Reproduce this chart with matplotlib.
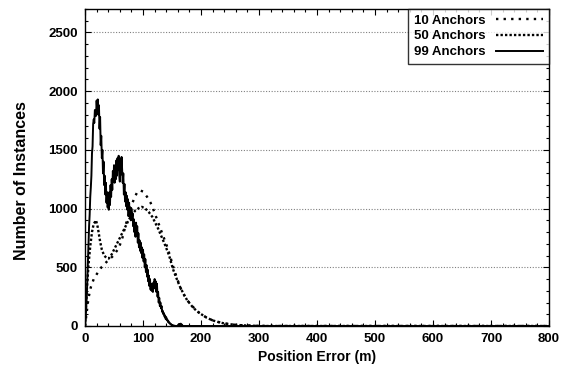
import matplotlib
matplotlib.use("Agg")
import matplotlib.pyplot as plt
from matplotlib.ticker import MultipleLocator

plt.rcParams['font.family'] = ['Liberation Sans', 'DejaVu Sans']
plt.rcParams['font.weight'] = 'bold'

# 10 anchors (smooth, peak ~1150 near 95 m)
x10 = [0, 3, 6, 10, 15, 20, 29, 40, 47, 58, 65, 70, 76, 81, 86, 90, 95, 100,
       107, 113, 118, 124, 130, 136, 142, 147, 153, 159, 165, 170, 176, 185,
       192, 199, 210, 220, 228, 240, 252, 265, 280, 300, 320, 800]
y10 = [0, 120, 240, 330, 400, 440, 505, 560, 590, 660, 760, 860, 960, 1040,
       1100, 1140, 1155, 1145, 1100, 1050, 990, 910, 830, 750, 670, 590, 490,
       400, 320, 270, 220, 170, 130, 105, 70, 48, 37, 22, 13, 8, 4, 1, 0, 0]

# 50 anchors (two humps)
x50 = [0, 3, 6, 9, 12, 15, 19, 22, 26, 29, 33, 37, 41, 46, 52, 58, 64, 70,
       75, 81, 87, 93, 98, 104, 110, 116, 121, 126, 132, 138, 145, 152, 159,
       165, 171, 176, 185, 192, 199, 210, 220, 230, 240, 255, 270, 290, 310, 800]
y50 = [0, 300, 520, 680, 800, 870, 900, 840, 720, 650, 600, 580, 575, 610,
       670, 730, 790, 850, 900, 950, 985, 1005, 1015, 1000, 970, 930, 880,
       830, 760, 690, 600, 480, 390, 320, 265, 220, 165, 130, 105, 70, 48,
       33, 22, 12, 6, 2, 0, 0]

# 99 anchors (noisy, 1 m bins up to 169 m, then flat)
x99 = list(range(170)) + [800]
y99 = [0, 60, 150, 250, 400, 550, 700, 850, 950, 1100,
       1180, 1280, 1470, 1530, 1720, 1760, 1730, 1840, 1830, 1790,
       1920, 1840, 1930, 1800, 1880, 1680, 1780, 1540, 1620, 1430,
       1500, 1300, 1400, 1200, 1280, 1120, 1220, 1050, 1140, 1010,
       1080, 990, 1140, 1030, 1200, 1100, 1250, 1160, 1320, 1230,
       1370, 1220, 1330, 1250, 1410, 1280, 1430, 1330, 1450, 1290,
       1230, 1420, 1290, 1440, 1320, 1220, 1300, 1120, 1210, 1060,
       1140, 1020, 1110, 990, 1080, 940, 1050, 930, 1010, 900,
       1000, 910, 960, 850, 910, 800, 880, 760, 880, 780,
       850, 710, 790, 670, 730, 640, 710, 620, 670, 580,
       650, 550, 610, 500, 570, 460, 520, 420, 480, 380,
       430, 340, 400, 310, 360, 300, 350, 290, 370, 320,
       400, 330, 380, 290, 360, 250, 290, 200, 240, 170,
       200, 150, 170, 120, 130, 100, 110, 80, 90, 60,
       75, 50, 55, 35, 40, 25, 28, 15, 18, 8,
       10, 5, 6, 2, 3, 0, 1, 0, 0, 0,
       5, 12, 8, 18, 10, 20, 6, 12, 3, 0] + [0]

fig = plt.figure(figsize=(5.71, 3.71), dpi=100)
ax = fig.add_axes([0.1489, 0.1213, 0.8126, 0.8544])

ax.plot(x10, y10, color='black', lw=1.7, linestyle=(0, (1, 2.2)), label='10 Anchors')
ax.plot(x50, y50, color='black', lw=1.7, linestyle=(0, (1, 0.9)), label='50 Anchors')
ax.plot(x99, y99, color='black', lw=1.4, linestyle='-', label='99 Anchors')

ax.set_xlim(0, 800)
ax.set_ylim(0, 2700)
ax.xaxis.set_major_locator(MultipleLocator(100))
ax.xaxis.set_minor_locator(MultipleLocator(20))
ax.yaxis.set_major_locator(MultipleLocator(500))
ax.yaxis.set_minor_locator(MultipleLocator(100))
ax.tick_params(which='both', direction='in', top=True, right=True,
               labelsize=9.5, width=0.8, pad=5)
ax.tick_params(which='major', length=4.5)
ax.tick_params(which='minor', length=2.2)
for lab in ax.get_xticklabels() + ax.get_yticklabels():
    lab.set_fontweight('bold')
for s in ax.spines.values():
    s.set_linewidth(1)

for v in [500, 1000, 1500, 2000, 2500]:
    ax.axhline(v, color='gray', lw=0.8, linestyle=(0, (1, 1.5)), zorder=0)

ax.set_xlabel('Position Error (m)', fontsize=10, fontweight='bold', labelpad=4)
ax.set_ylabel('Number of Instances', fontsize=11.5, fontweight='bold')
ax.yaxis.set_label_coords(-0.12, 0.46)

leg = ax.legend(loc='upper right', borderaxespad=0, fancybox=False,
                markerfirst=False, handlelength=3.6, handletextpad=0.8,
                labelspacing=0.26, borderpad=0.42,
                prop={'size': 9.5, 'weight': 'bold'})
leg.get_frame().set_edgecolor('black')
leg.get_frame().set_linewidth(1)

fig.savefig('out.png', dpi=100)
